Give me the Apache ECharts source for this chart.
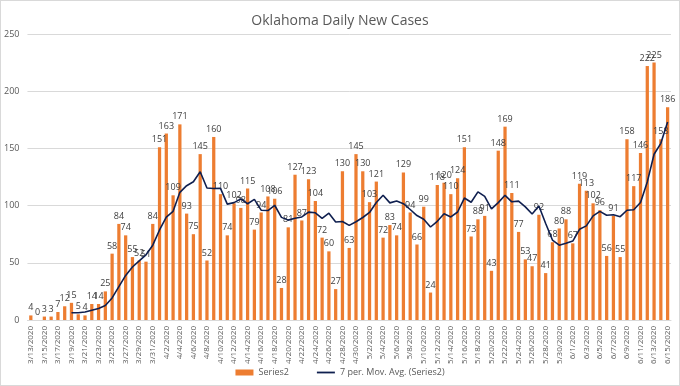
<!DOCTYPE html>
<html><head><meta charset="utf-8">
<script src="https://cdn.jsdelivr.net/npm/echarts@6/dist/echarts.min.js"></script>
<style>
html,body{margin:0;padding:0;background:#fff;}
#c{width:680px;height:386px;box-sizing:border-box;border:1px solid #d9d9d9;}
</style></head>
<body><div id="c"></div>
<script>
var categories = ["3/13/2020","3/14/2020","3/15/2020","3/16/2020","3/17/2020","3/18/2020","3/19/2020","3/20/2020","3/21/2020","3/22/2020","3/23/2020","3/24/2020","3/25/2020","3/26/2020","3/27/2020","3/28/2020","3/29/2020","3/30/2020","3/31/2020",
"4/1/2020","4/2/2020","4/3/2020","4/4/2020","4/5/2020","4/6/2020","4/7/2020","4/8/2020","4/9/2020","4/10/2020","4/11/2020","4/12/2020","4/13/2020","4/14/2020","4/15/2020","4/16/2020","4/17/2020","4/18/2020","4/19/2020","4/20/2020","4/21/2020","4/22/2020","4/23/2020","4/24/2020","4/25/2020","4/26/2020","4/27/2020","4/28/2020","4/29/2020","4/30/2020",
"5/1/2020","5/2/2020","5/3/2020","5/4/2020","5/5/2020","5/6/2020","5/7/2020","5/8/2020","5/9/2020","5/10/2020","5/11/2020","5/12/2020","5/13/2020","5/14/2020","5/15/2020","5/16/2020","5/17/2020","5/18/2020","5/19/2020","5/20/2020","5/21/2020","5/22/2020","5/23/2020","5/24/2020","5/25/2020","5/26/2020","5/27/2020","5/28/2020","5/29/2020","5/30/2020","5/31/2020",
"6/1/2020","6/2/2020","6/3/2020","6/4/2020","6/5/2020","6/6/2020","6/7/2020","6/8/2020","6/9/2020","6/10/2020","6/11/2020","6/12/2020","6/13/2020","6/14/2020","6/15/2020"];

var series2 = [4,0,3,3,7,12,15,5,4,14,14,25,58,84,74,55,52,51,84,
151,163,109,171,93,75,145,52,160,110,74,102,98,115,79,94,108,106,28,81,127,87,123,104,72,60,27,130,63,145,
130,103,121,72,83,74,129,94,66,99,24,118,120,110,124,151,73,88,91,43,148,169,111,77,53,47,92,41,68,80,88,
67,119,113,102,96,56,91,55,158,117,146,222,225,158,186];

var movingAvg = [null,null,null,null,null,null,6.3,6.4,7.0,8.6,10.1,12.7,19.3,29.1,39.0,46.3,51.7,57.0,65.4,
78.7,90.0,95.0,111.6,117.4,120.9,129.6,115.4,115.0,115.1,101.3,102.6,105.9,101.6,105.4,96.0,95.7,100.3,89.7,87.3,89.0,90.1,94.3,93.7,88.9,93.4,85.7,86.1,82.7,85.9,
89.6,94.0,102.7,109.1,102.4,104.0,101.7,96.6,91.3,88.1,81.3,86.3,92.9,90.1,94.4,106.6,102.9,112.0,108.1,97.1,102.6,109.0,103.3,103.9,98.9,92.6,99.6,84.3,69.9,65.4,67.0,
69.0,79.3,82.3,91.0,95.0,91.6,92.0,90.3,95.9,96.4,102.7,120.7,144.9,154.4,173.1];

var yTicks = [0,50,100,150,200,250];

var chart = echarts.init(document.getElementById('c'), null, {renderer:'canvas'});
chart.setOption({
  animation:false,
  title:{text:'Oklahoma Daily New Cases', left:'center', top:8,
    textStyle:{fontFamily:'Open Sans', fontSize:14, fontWeight:'normal', color:'#595959'}},
  grid:{left:22, right:8, top:33, bottom:65, containLabel:false},
  legend:{bottom:3, left:'center', itemGap:28,
    textStyle:{fontFamily:'Open Sans', fontSize:9, color:'#595959'},
    data:[{name:'Series2', icon:'rect', itemStyle:{color:'#ED7D31'}},
          {name:'7 per. Mov. Avg. (Series2)', icon:'path://M0,0 L20,0 L20,2 L0,2 Z'}],
    itemWidth:18, itemHeight:6},
  xAxis:{type:'category', data:categories, boundaryGap:true,
    axisLine:{lineStyle:{color:'#d9d9d9'}}, axisTick:{show:false},
    axisLabel:{interval:1, rotate:90, fontFamily:'Open Sans', fontSize:8, color:'#595959', margin:6}},
  yAxis:{type:'value', min:yTicks[0], max:yTicks[yTicks.length-1], interval:50,
    axisLine:{show:false}, axisTick:{show:false},
    splitLine:{lineStyle:{color:'#d9d9d9'}},
    axisLabel:{fontFamily:'Open Sans', fontSize:9, color:'#595959', margin:8}},
  series:[
    {name:'Series2', type:'bar', data:series2, barWidth:'48%',
      itemStyle:{color:'#ED7D31'},
      label:{show:true, position:'top', distance:3, fontFamily:'Open Sans', fontSize:9, color:'#404040'}},
    {name:'7 per. Mov. Avg. (Series2)', type:'line', data:movingAvg, symbol:'none',
      lineStyle:{color:'#0F1F4F', width:1.6}, itemStyle:{color:'#0F1F4F'}, connectNulls:false}
  ]
});
</script></body></html>
